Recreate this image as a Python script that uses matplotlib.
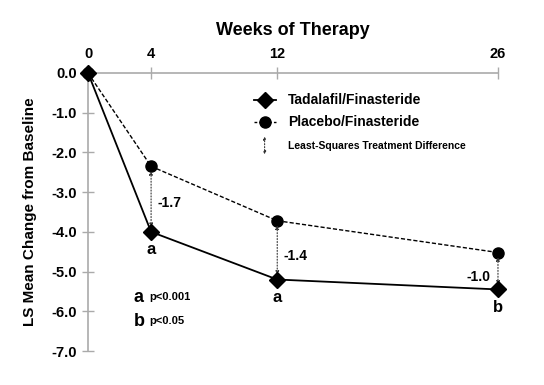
import matplotlib.pyplot as plt
import numpy as np
from matplotlib.lines import Line2D

plt.rcParams['font.family'] = ['Liberation Sans', 'DejaVu Sans']
plt.rcParams['font.weight'] = 'bold'

weeks = [0, 4, 12, 26]
tada = [0.0, -4.0, -5.2, -5.45]
placebo = [0.0, -2.35, -3.72, -4.52]
diff_labels = ['-1.7', '-1.4', '-1.0']
sig_letters = ['a', 'a', 'b']
xticks = [0, 4, 12, 26]
yticks = [0, -1, -2, -3, -4, -5, -6, -7]

fig = plt.figure(figsize=(5.44, 3.85), dpi=100)
ax = fig.add_axes([0.1618, 0.0883, 0.7536, 0.7221])

ax.plot(weeks, placebo, 'k--', lw=1.0, marker='o', ms=8, dashes=(3, 1.5),
        clip_on=False, zorder=3)
ax.plot(weeks, tada, 'k-', lw=1.3, marker='D', ms=8, clip_on=False, zorder=4)

# treatment difference arrows
for i in range(1, 4):
    x = weeks[i]
    ax.annotate('', xy=(x, tada[i] + 0.12), xytext=(x, placebo[i] - 0.12),
                arrowprops=dict(arrowstyle='<|-|>', lw=0.8, ls=':', color='#333333',
                                mutation_scale=5, shrinkA=0, shrinkB=0))

ax.text(4.4, (tada[1] + placebo[1]) / 2 - 0.1, diff_labels[0], fontsize=10,
        fontweight='bold', va='center', ha='left')
ax.text(12.4, (tada[2] + placebo[2]) / 2 - 0.15, diff_labels[1], fontsize=10,
        fontweight='bold', va='center', ha='left')
ax.text(25.5, (tada[3] + placebo[3]) / 2 - 0.15, diff_labels[2], fontsize=10,
        fontweight='bold', va='center', ha='right')

for i, letter in enumerate(sig_letters):
    ax.text(weeks[i + 1], tada[i + 1] - 0.45, letter, fontsize=12,
            fontweight='bold', ha='center', va='center')

# footnotes
ax.text(2.9, -5.65, 'a', fontsize=13, fontweight='bold', va='center')
ax.text(3.9, -5.65, 'p<0.001', fontsize=8, fontweight='bold', va='center')
ax.text(2.9, -6.25, 'b', fontsize=13, fontweight='bold', va='center')
ax.text(3.9, -6.25, 'p<0.05', fontsize=8, fontweight='bold', va='center')

# legend drawn by hand
ax.plot([10.5, 11.9], [-0.68, -0.68], 'k-', lw=1.3)
ax.plot([11.2], [-0.68], 'kD', ms=8)
ax.plot([10.5, 11.9], [-1.24, -1.24], 'k--', lw=1.0, dashes=(2, 1.5))
ax.plot([11.2], [-1.24], 'ko', ms=8)
ax.annotate('', xy=(11.2, -2.05), xytext=(11.2, -1.6),
            arrowprops=dict(arrowstyle='<|-|>', lw=0.8, ls=':', color='#333333',
                            mutation_scale=4, shrinkA=0, shrinkB=0))
ax.text(12.7, -0.68, 'Tadalafil/Finasteride', fontsize=10, fontweight='bold', va='center')
ax.text(12.7, -1.24, 'Placebo/Finasteride', fontsize=10, fontweight='bold', va='center')
ax.text(12.7, -1.83, 'Least-Squares Treatment Difference', fontsize=7.5,
        fontweight='bold', va='center')

ax.set_xlim(0, 26)
ax.set_ylim(-7, 0)
ax.xaxis.tick_top()
ax.set_xticks(xticks)
ax.set_yticks(yticks)
ax.set_yticklabels(['%.1f' % v for v in yticks])
ax.tick_params(axis='both', direction='inout', length=9, width=1, color='#aaaaaa',
               labelsize=10.5)
ax.tick_params(axis='x', pad=4)
for lab in ax.get_xticklabels() + ax.get_yticklabels():
    lab.set_fontweight('bold')
for side in ['right', 'bottom']:
    ax.spines[side].set_visible(False)
ax.spines['left'].set_color('#aaaaaa')
ax.spines['top'].set_color('#aaaaaa')
ax.spines['left'].set_linewidth(1.2)
ax.spines['top'].set_linewidth(1.2)

ax.set_xlabel('Weeks of Therapy', fontsize=13, fontweight='bold', labelpad=9)
ax.xaxis.set_label_position('top')
ax.set_ylabel('LS Mean Change from Baseline', fontsize=11, fontweight='bold', labelpad=10)

fig.savefig('out.png', dpi=100)
